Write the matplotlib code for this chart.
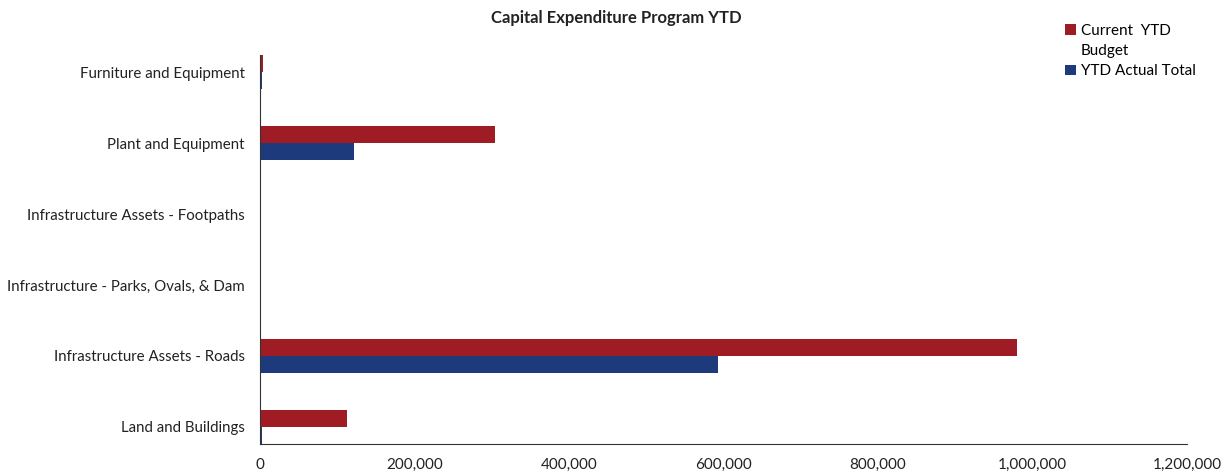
import numpy as np
import matplotlib.pyplot as plt
from matplotlib.patches import Rectangle
from matplotlib.ticker import FuncFormatter

plt.rcParams["font.family"] = ["Lato", "DejaVu Sans"]

categories = [
    "Land and Buildings",
    "Infrastructure Assets - Roads",
    "Infrastructure - Parks, Ovals, & Dam",
    "Infrastructure Assets - Footpaths",
    "Plant and Equipment",
    "Furniture and Equipment",
]
ytd_budget = [112000, 980000, 0, 0, 304000, 4000]
ytd_actual = [3000, 593000, 0, 0, 121000, 2000]

red = "#a01c24"
blue = "#1d3b7c"
text_color = "#222222"


def main():
    fig = plt.figure(figsize=(12.26, 4.73), dpi=100, facecolor="white")
    ax = fig.add_axes([0.2121, 0.0613, 0.7561, 0.8224])

    y = np.arange(len(categories))
    h = 0.24
    b1 = ax.barh(y + h / 2, ytd_budget, height=h, color=red)
    b2 = ax.barh(y - h / 2, ytd_actual, height=h, color=blue)

    ax.set_xlim(0, 1200000)
    ax.set_ylim(-0.24, len(categories) - 1 + 0.24)
    ax.set_xticks(np.arange(0, 1200001, 200000))
    ax.xaxis.set_major_formatter(FuncFormatter(lambda v, p: "{:,.0f}".format(v)))
    ax.set_yticks(y)
    ax.set_yticklabels(categories)

    for s in ["top", "right"]:
        ax.spines[s].set_visible(False)
    ax.spines["left"].set_color("#333333")
    ax.spines["bottom"].set_color("#333333")
    ax.tick_params(axis="y", length=0, pad=11, labelsize=10.8, labelcolor=text_color)
    ax.tick_params(axis="x", length=0, pad=10, labelsize=11, labelcolor=text_color)

    fig.text(0.5025, 0.962, "Capital Expenditure Program YTD", ha="center", va="center",
             fontsize=12, fontweight="bold", color=text_color)

    # wrapped legend label: blank handle carries the second line
    blank = Rectangle((0, 0), 1, 1, fill=False, edgecolor="none")
    fig.legend([b1, blank, b2], ["Current  YTD", "Budget", "YTD Actual Total"],
               loc="upper left", bbox_to_anchor=(0.864, 0.963), frameon=False,
               fontsize=11, handlelength=0.7, handleheight=0.7, handletextpad=0.3,
               labelspacing=0.42, borderaxespad=0)

    fig.savefig("out.png", dpi=100)


if __name__ == "__main__":
    main()
